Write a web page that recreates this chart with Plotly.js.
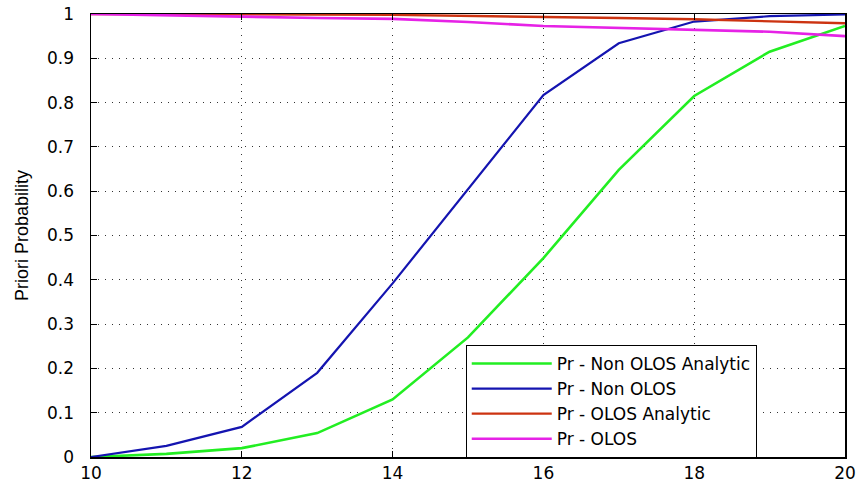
<!DOCTYPE html>
<html>
<head>
<meta charset="utf-8">
<script src="https://cdn.plot.ly/plotly-3.0.1.min.js"></script>
<style>html,body{margin:0;padding:0;background:#fff;overflow:hidden;}#chart{width:859px;height:485px;}</style>
</head>
<body>
<div id="chart"></div>
<script>
const distance = [10, 11, 12, 13, 14, 15, 16, 17, 18, 19, 20];
const nonOlosAnalytic = [0, 0.007, 0.02, 0.054, 0.13, 0.27, 0.449, 0.648, 0.815, 0.915, 0.973];
const nonOlos = [0, 0.025, 0.068, 0.19, 0.392, 0.605, 0.817, 0.934, 0.983, 0.995, 0.999];
const olosAnalytic = [1, 1, 1, 0.999, 0.998, 0.996, 0.994, 0.991, 0.988, 0.984, 0.979];
const olos = [1, 0.997, 0.993, 0.991, 0.989, 0.982, 0.973, 0.969, 0.965, 0.96, 0.95];
const seriesNames = ['Pr - Non OLOS Analytic', 'Pr - Non OLOS', 'Pr - OLOS Analytic', 'Pr - OLOS'];
const xTicks = [10, 12, 14, 16, 18, 20];
const yTicks = [0, 0.1, 0.2, 0.3, 0.4, 0.5, 0.6, 0.7, 0.8, 0.9, 1];

const colors = ['#22ee22', '#1414b0', '#cc3311', '#e622e6'];
const widths = [2.6, 2.2, 2.4, 2.6];
const ys = [nonOlosAnalytic, nonOlos, olosAnalytic, olos];

const traces = ys.map((y, i) => ({
  x: distance, y: y, name: seriesNames[i], type: 'scatter', mode: 'lines',
  line: {color: colors[i], width: widths[i]}, hoverinfo: 'skip'
}));

const tickFont = {family: 'DejaVu Sans, Arial, sans-serif', size: 17, color: '#000'};
const layout = {
  width: 859, height: 485,
  margin: {l: 91, r: 14, t: 14, b: 28, pad: 0},
  paper_bgcolor: '#fff', plot_bgcolor: '#fff',
  showlegend: true,
  xaxis: {
    range: [10, 20], tickvals: xTicks, ticktext: xTicks.map(String),
    showgrid: true, gridcolor: '#333', griddash: '1px,6px', gridwidth: 1,
    zeroline: false, showline: true, linecolor: '#000', linewidth: 1.5, mirror: 'ticks',
    ticks: 'inside', ticklen: 6, tickcolor: '#000', tickfont: tickFont,
    layer: 'above traces'
  },
  yaxis: {
    range: [0, 1], tickvals: yTicks, ticktext: yTicks.map(String),
    showgrid: true, gridcolor: '#333', griddash: '1px,6px', gridwidth: 1,
    zeroline: false, showline: true, linecolor: '#000', linewidth: 1.5, mirror: 'ticks',
    ticks: 'inside', ticklen: 6, tickcolor: '#000', tickfont: tickFont,
    ticklabelstandoff: 12, layer: 'above traces',
    title: {text: 'Priori Probability', standoff: 14,
            font: {family: 'Liberation Sans Narrow, Arial Narrow, Liberation Sans, Arial, sans-serif', size: 18, color: '#000'}}
  },
  legend: {
    x: 0.497, y: 0.253, xanchor: 'left', yanchor: 'top',
    bgcolor: '#fff', bordercolor: '#000', borderwidth: 1,
    font: {family: 'DejaVu Sans, Arial, sans-serif', size: 17, color: '#000'},
    itemwidth: 80, tracegroupgap: 0
  }
};
Plotly.newPlot('chart', traces, layout, {displayModeBar: false, staticPlot: true});
</script>
</body>
</html>
